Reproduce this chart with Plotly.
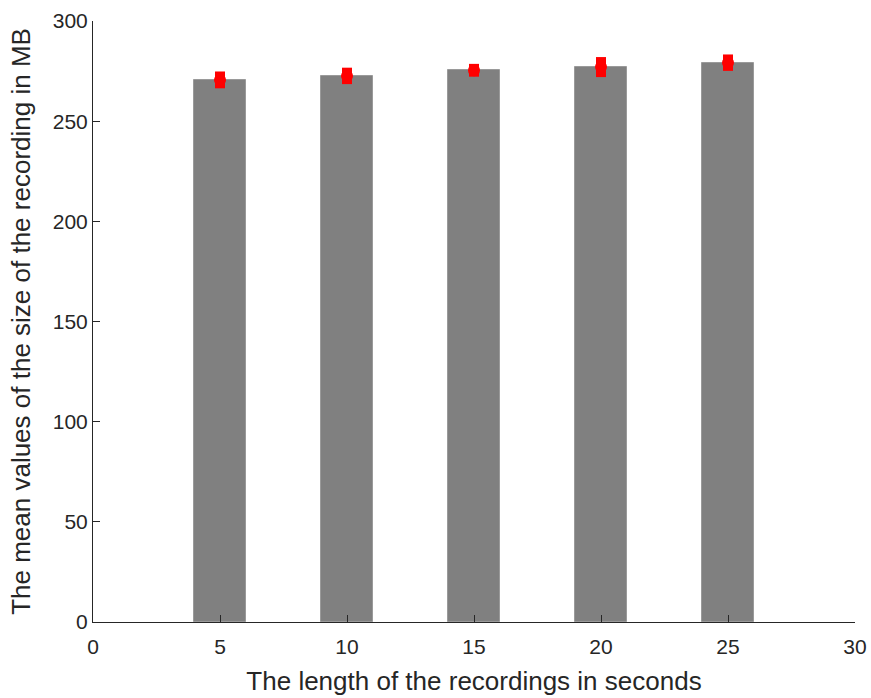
import plotly.graph_objects as go

lengths = [5, 10, 15, 20, 25]
mean_sizes = [270.6, 272.6, 275.4, 277.0, 279.2]
errors = [4.2, 4.1, 3.2, 5.0, 4.1]

x_ticks = [0, 5, 10, 15, 20, 25, 30]
y_ticks = [0, 50, 100, 150, 200, 250, 300]

axis_color = "#262626"
font_family = "Liberation Sans, Arial, sans-serif"

fig = go.Figure()
fig.add_trace(go.Bar(
    x=lengths, y=mean_sizes, width=2.05,
    marker=dict(color="#808080", line=dict(color="#9a9a9a", width=1)),
    showlegend=False,
))
fig.add_trace(go.Scatter(
    x=lengths, y=mean_sizes, mode="markers",
    marker=dict(color="red", size=12, symbol="circle"),
    error_y=dict(type="data", array=errors, visible=True,
                 color="red", thickness=10, width=0),
    showlegend=False,
))

fig.update_layout(
    width=871, height=698,
    margin=dict(l=93, r=16, t=21, b=76),
    plot_bgcolor="white", paper_bgcolor="white",
    font=dict(family=font_family, color=axis_color),
    bargap=0,
)
fig.update_xaxes(
    range=[0, 30], tickvals=x_ticks, ticktext=[str(v) for v in x_ticks],
    showgrid=False, zeroline=False, automargin=False,
    showline=True, linecolor=axis_color, linewidth=1,
    ticks="inside", ticklen=7, tickcolor=axis_color,
    ticklabelstandoff=6,
    tickfont=dict(size=21, color=axis_color),
    title=dict(text="The length of the recordings in seconds",
               font=dict(size=26, color=axis_color), standoff=14),
)
fig.update_yaxes(
    range=[0, 300], tickvals=y_ticks, ticktext=[str(v) for v in y_ticks],
    showgrid=False, zeroline=False, automargin=False,
    showline=True, linecolor=axis_color, linewidth=1,
    ticks="inside", ticklen=7, tickcolor=axis_color,
    tickfont=dict(size=21, color=axis_color),
    title=dict(text="The mean values of the size of the recording in MB",
               font=dict(size=26, color=axis_color), standoff=14),
)

fig.write_html("out.html")
